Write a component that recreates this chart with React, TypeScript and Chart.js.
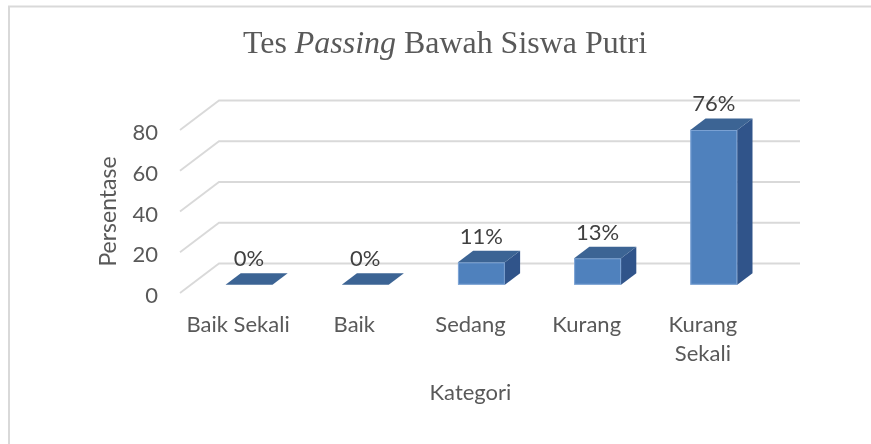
import React, { useEffect, useRef } from "react";
import { Chart, registerables } from "chart.js";

Chart.register(...registerables);

// ---- data ----
const categories: (string | string[])[] = ["Baik Sekali", "Baik", "Sedang", "Kurang", ["Kurang", "Sekali"]];
const percentages: number[] = [0, 0, 11, 13, 76];
const yTickValues: number[] = [0, 20, 40, 60, 80];
const titleParts: { text: string; italic: boolean }[] = [
  { text: "Tes ", italic: false },
  { text: "Passing", italic: true },
  { text: " Bawah Siswa Putri", italic: false },
];
const yAxisTitle = "Persentase";
const xAxisTitle = "Kategori";

// ---- style ----
const DEPTH_X = 39;
const DEPTH_Y = -29.5;
const BAR_FRONT = 0.28;
const BAR_BACK = 0.67;
const GRID_COLOR = "#D9D9D9";
const FRONT_COLOR = "#4F81BD";
const TOP_COLOR = "#3C6494";
const SIDE_COLOR = "#30548A";
const TEXT_COLOR = "#595959";
const LABEL_COLOR = "#404040";
const SANS = "Lato";
const TITLE_SIZE = 30;
const TITLE_WIDTH = 404;

const threeDPlugin = {
  id: "threeD",
  beforeDraw(chart: any) {
    const ctx = chart.ctx as CanvasRenderingContext2D;
    ctx.save();
    ctx.fillStyle = "#ffffff";
    ctx.fillRect(0, 0, chart.width, chart.height);
    // outer border (left and top visible)
    ctx.strokeStyle = GRID_COLOR;
    ctx.lineWidth = 2;
    ctx.beginPath();
    ctx.moveTo(9, chart.height + 5);
    ctx.lineTo(9, 6.5);
    ctx.lineTo(chart.width + 5, 6.5);
    ctx.stroke();
    // title with italic segment
    const fonts = titleParts.map(
      (p) => `${p.italic ? "italic " : ""}${TITLE_SIZE}px "Liberation Serif", "Times New Roman", serif`
    );
    let total = 0;
    const widths = titleParts.map((p, i) => {
      ctx.font = fonts[i];
      const w = ctx.measureText(p.text).width;
      total += w;
      return w;
    });
    const sx = TITLE_WIDTH / total;
    ctx.translate(445 - TITLE_WIDTH / 2, 53);
    ctx.scale(sx, 1.03);
    let x = 0;
    ctx.fillStyle = TEXT_COLOR;
    ctx.textBaseline = "alphabetic";
    ctx.textAlign = "left";
    titleParts.forEach((p, i) => {
      ctx.font = fonts[i];
      ctx.fillText(p.text, x, 0);
      x += widths[i];
    });
    ctx.restore();
  },
  beforeDatasetsDraw(chart: any) {
    const ctx = chart.ctx as CanvasRenderingContext2D;
    const yScale = chart.scales.y;
    const { left, right } = chart.chartArea;
    ctx.save();
    ctx.strokeStyle = GRID_COLOR;
    ctx.lineWidth = 1.8;
    yScale.ticks.forEach((t: any) => {
      const y = yScale.getPixelForValue(t.value);
      ctx.beginPath();
      ctx.moveTo(left, y);
      ctx.lineTo(left + DEPTH_X, y + DEPTH_Y);
      ctx.lineTo(right + DEPTH_X, y + DEPTH_Y);
      ctx.stroke();
    });
    ctx.restore();
  },
  afterDatasetsDraw(chart: any) {
    const ctx = chart.ctx as CanvasRenderingContext2D;
    const meta = chart.getDatasetMeta(0);
    const ox = DEPTH_X * BAR_FRONT;
    const oy = DEPTH_Y * BAR_FRONT;
    const dx = DEPTH_X * (BAR_BACK - BAR_FRONT);
    const dy = DEPTH_Y * (BAR_BACK - BAR_FRONT);
    ctx.save();
    meta.data.forEach((el: any, i: number) => {
      const { x, y, base, width } = el.getProps(["x", "y", "base", "width"], true);
      const x0 = x - width / 2 + ox;
      const x1 = x + width / 2 + ox;
      const top = y + oy;
      const bottom = base + oy;
      // front
      if (bottom - top > 0.5) {
        ctx.fillStyle = FRONT_COLOR;
        ctx.fillRect(x0, top, x1 - x0, bottom - top);
        ctx.strokeStyle = "rgba(140,175,220,0.8)";
        ctx.lineWidth = 1;
        ctx.strokeRect(x0 + 0.5, top + 0.5, x1 - x0 - 1, bottom - top - 1);
        // side
        ctx.fillStyle = SIDE_COLOR;
        ctx.beginPath();
        ctx.moveTo(x1, top);
        ctx.lineTo(x1 + dx, top + dy);
        ctx.lineTo(x1 + dx, bottom + dy);
        ctx.lineTo(x1, bottom);
        ctx.closePath();
        ctx.fill();
      }
      // top
      ctx.fillStyle = TOP_COLOR;
      ctx.beginPath();
      ctx.moveTo(x0, top);
      ctx.lineTo(x1, top);
      ctx.lineTo(x1 + dx, top + dy);
      ctx.lineTo(x0 + dx, top + dy);
      ctx.closePath();
      ctx.fill();
      // data label
      ctx.fillStyle = LABEL_COLOR;
      ctx.font = `22px ${SANS}`;
      ctx.textAlign = "center";
      ctx.textBaseline = "alphabetic";
      ctx.fillText(`${percentages[i]}%`, (x0 + x1) / 2, top + dy - 7);
    });
    ctx.restore();
  },
};

export default function App() {
  const ref = useRef<HTMLCanvasElement | null>(null);
  useEffect(() => {
    if (!ref.current) return;
    const chart = new Chart(ref.current, {
      type: "bar",
      data: {
        labels: categories,
        datasets: [
          {
            data: percentages,
            backgroundColor: "rgba(0,0,0,0)",
            borderWidth: 0,
            barPercentage: 0.404,
            categoryPercentage: 1,
          },
        ],
      },
      options: {
        animation: false,
        responsive: false,
        events: [],
        layout: { padding: { left: 90, right: 110, top: 130, bottom: 0 } },
        plugins: {
          legend: { display: false },
          tooltip: { enabled: false },
          title: { display: false },
        },
        scales: {
          x: {
            grid: { display: false, drawTicks: false, tickLength: 0 },
            border: { display: false },
            ticks: {
              color: TEXT_COLOR,
              font: { family: SANS, size: 22, lineHeight: 1.3 },
              padding: 18,
              maxRotation: 0,
              autoSkip: false,
            },
            title: {
              display: true,
              text: xAxisTitle,
              color: TEXT_COLOR,
              font: { family: SANS, size: 22, lineHeight: 1.2 },
              padding: { top: 0, bottom: 38 },
            },
            afterFit: (s: any) => {
              s.height = 151;
            },
          },
          y: {
            min: 0,
            max: 80,
            afterBuildTicks: (s: any) => {
              s.ticks = yTickValues.map((v) => ({ value: v }));
            },
            grid: { display: false, drawTicks: false, tickLength: 0 },
            border: { display: false },
            ticks: {
              color: TEXT_COLOR,
              font: { family: SANS, size: 22 },
              padding: 22,
              labelOffset: 3,
            },
            title: {
              display: true,
              text: yAxisTitle,
              color: TEXT_COLOR,
              font: { family: SANS, size: 23, lineHeight: 1.2 },
              padding: { top: 5, bottom: 0 },
            },
            afterFit: (s: any) => {
              s.width = 90;
            },
          },
        },
      },
      plugins: [threeDPlugin],
    });
    return () => chart.destroy();
  }, []);
  return (
    <div style={{ position: "absolute", left: 0, top: 0, width: 871, height: 444 }}>
      <canvas ref={ref} width={871} height={444} style={{ width: 871, height: 444, display: "block" }} />
    </div>
  );
}
